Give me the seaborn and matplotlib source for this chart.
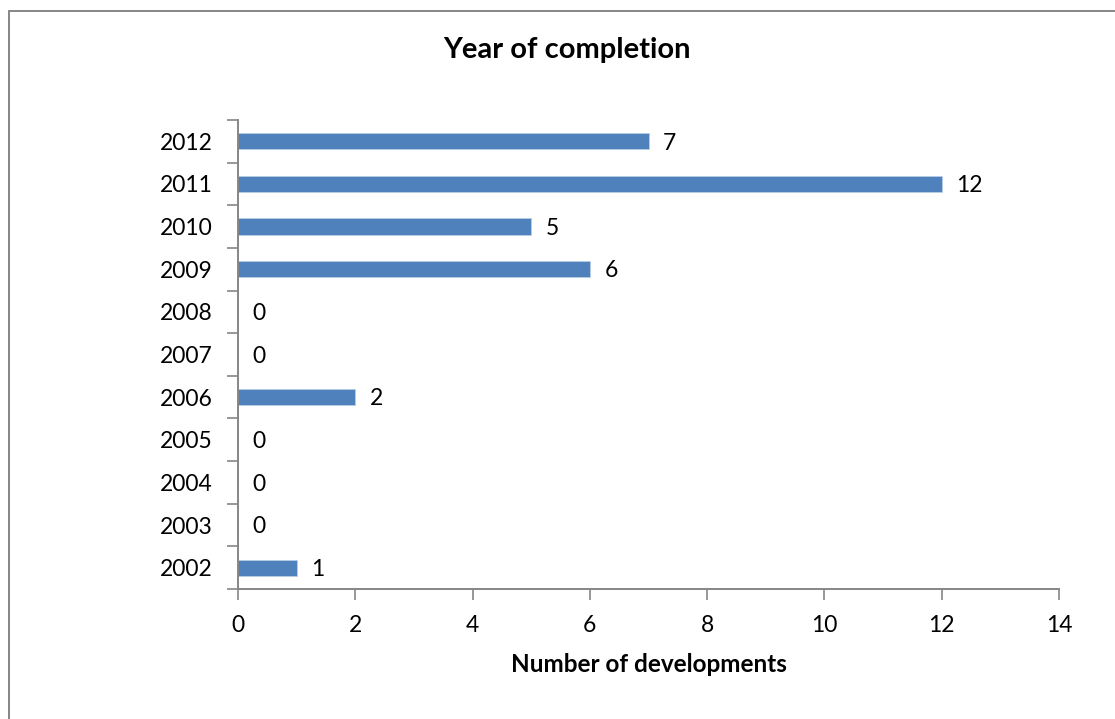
import matplotlib

matplotlib.use("Agg")
import matplotlib.pyplot as plt
import pandas as pd
import seaborn as sns
from matplotlib.lines import Line2D

years = ["2012", "2011", "2010", "2009", "2008", "2007", "2006", "2005", "2004", "2003", "2002"]
developments = [7, 12, 5, 6, 0, 0, 2, 0, 0, 0, 1]
x_ticks = [0, 2, 4, 6, 8, 10, 12, 14]

frame = pd.DataFrame({"year": years, "count": developments})

sns.set_theme(style="white")
plt.rcParams["font.family"] = ["Lato", "DejaVu Sans"]
plt.rcParams["text.color"] = "black"
plt.rcParams["axes.labelcolor"] = "black"
plt.rcParams["xtick.labelcolor"] = "black"
plt.rcParams["ytick.labelcolor"] = "black"

grey = "#868686"
figure = plt.figure(figsize=(11.15, 7.19), dpi=100)
axis = figure.add_axes([238 / 1115, 1 - 589 / 719, (1059 - 238) / 1115, (589 - 120) / 719])

sns.barplot(
    data=frame, x="count", y="year", order=years, orient="h",
    color="#4f81bd", saturation=1, width=0.38, edgecolor="#b9cde5", linewidth=0.6, ax=axis,
)

for idx, value in enumerate(developments):
    axis.text(value + 0.25, idx + 0.04, str(value), va="center", ha="left", fontsize=16.5, color="black")

axis.set_xlim(0, 14)
axis.set_ylim(len(years) - 0.5, -0.5)
axis.set_xticks(x_ticks)
axis.set_xticklabels([str(t) for t in x_ticks], fontsize=16.5)
axis.set_yticks([i - 0.5 for i in range(len(years) + 1)], minor=False)
axis.set_yticklabels([])
axis.set_yticks(range(len(years)), minor=True)
axis.set_yticklabels(years, minor=True, fontsize=16.5)
axis.tick_params(axis="y", which="major", direction="out", length=8, width=1.2, color=grey, left=True)
axis.tick_params(axis="y", which="minor", length=0, pad=18, labelcolor="black")
axis.tick_params(axis="x", direction="out", length=8, width=1.2, color=grey, bottom=True, pad=11,
                 labelcolor="black")

for side in ["top", "right"]:
    axis.spines[side].set_visible(False)
for side in ["left", "bottom"]:
    axis.spines[side].set_color(grey)
    axis.spines[side].set_linewidth(1.4)

axis.set_xlabel("Number of developments", fontsize=17.5, fontweight="bold", labelpad=12, color="black")
axis.set_ylabel("")
figure.text(567 / 1115, 1 - 50 / 719, "Year of completion", ha="center", va="center",
            fontsize=21, fontweight="bold", color="black")

# outer chart border (left and top edges visible)
figure.add_artist(Line2D([8.5 / 1115, 8.5 / 1115], [0, 1 - 10.5 / 719], color=grey, lw=1.4))
figure.add_artist(Line2D([8.5 / 1115, 1], [1 - 10.5 / 719, 1 - 10.5 / 719], color=grey, lw=1.4))

figure.savefig("out.png", dpi=100)
